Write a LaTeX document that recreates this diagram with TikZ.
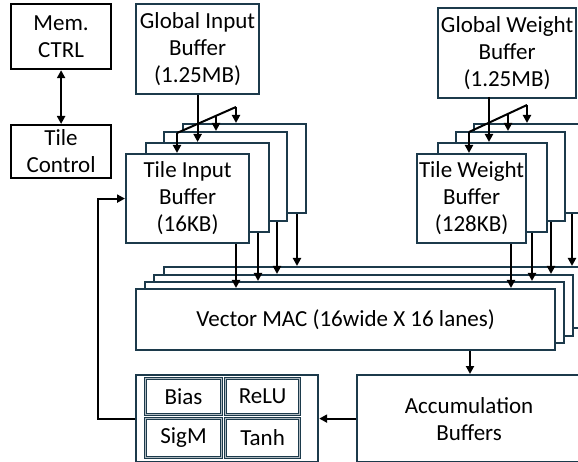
\documentclass[tikz,border=0pt]{standalone}
\usepackage{fontspec}
\setmainfont{Carlito}
\usetikzlibrary{arrows.meta}
\definecolor{bd}{HTML}{1C3A4B}
\begin{document}
\begin{tikzpicture}[x=1pt,y=-1pt,
  box/.style={draw=bd, line width=2.2pt, fill=white, inner sep=0pt, anchor=north west, align=center, font=\fontsize{23}{27}\selectfont},
  blk/.style={box, draw=black},
  ibox/.style={box, line width=1.1pt, double=bd!35, double distance=0.8pt},
  ln/.style={line width=2pt},
  arr/.style={ln, -{Triangle[length=8pt,width=8pt]}},
  darr/.style={ln, {Triangle[length=8pt,width=8pt]}-{Triangle[length=8pt,width=8pt]}}]
\clip (0,0) rectangle (578,462);
% control
\node[blk, minimum width=100pt, minimum height=65pt] (mem) at (10,3) {Mem.\\CTRL};
\node[blk, minimum width=100pt, minimum height=53pt] (tc) at (10,124) {Tile\\Control};
\draw[darr] (mem.south) -- (tc.north);
% global buffers
\node[box, minimum width=123pt, minimum height=90pt] (gi) at (135,3) {Global Input\\Buffer\\(1.25MB)};
\node[box, minimum width=138pt, minimum height=90pt] (gw) at (437,7) {Global Weight\\Buffer\\(1.25MB)};
% tile input stack
\node[box, minimum width=123pt, minimum height=89pt] (ti4) at (182,123) {};
\node[box, minimum width=123pt, minimum height=89pt] (ti3) at (163,131) {};
\node[box, minimum width=123pt, minimum height=89pt] (ti2) at (145,142) {};
\node[box, minimum width=123pt, minimum height=89pt] (ti1) at (125,153) {Tile Input\\Buffer\\(16KB)};
% tile weight stack
\node[box, minimum width=109pt, minimum height=89pt] (tw4) at (473,123) {};
\node[box, minimum width=109pt, minimum height=89pt] (tw3) at (455,131) {};
\node[box, minimum width=109pt, minimum height=89pt] (tw2) at (437,142) {};
\node[box, minimum width=109pt, minimum height=89pt] (tw1) at (416,153) {Tile Weight\\Buffer\\(128KB)};
% MAC stack
\node[box, minimum width=419pt, minimum height=61pt] (m4) at (163,266) {};
\node[box, minimum width=419pt, minimum height=61pt] (m3) at (153,274) {};
\node[box, minimum width=419pt, minimum height=61pt] (m2) at (144,281) {};
\node[box, minimum width=419pt, minimum height=61pt] (m1) at (135,288) {Vector MAC (16wide X 16 lanes)};
% activation
\node[box, minimum width=182pt, minimum height=87pt] (act) at (135,374) {};
\node[ibox, minimum width=76pt, minimum height=36pt] (bias) at (145,378) {Bias};
\node[ibox, minimum width=74pt, minimum height=36pt] (relu) at (225,378) {ReLU};
\node[ibox, minimum width=76pt, minimum height=39pt] (sigm) at (145,418) {SigM};
\node[ibox, minimum width=74pt, minimum height=39pt] (tanh) at (225,418) {Tanh};
% accumulation
\node[box, minimum width=224pt, minimum height=87pt] (acc) at (356,374) {Accumulation\\Buffers};
% input fan-out
\coordinate (fa) at (177,133);
\coordinate (fb) at (236,107);
\coordinate (fc) at (216,115.8);
\draw[ln] (fa) -- (fb);
\draw[arr] (gi.south) -- (gi.south |- ti2.north);
\draw[arr] (fa) -- (fa |- ti1.north);
\draw[arr] (fc) -- (fc |- ti3.north);
\draw[arr] (fb) -- (fb |- ti4.north);
% weight fan-out
\coordinate (wtop) at (489,97);
\coordinate (wa) at (469,132);
\coordinate (wb) at (527,105);
\coordinate (wc) at (508,113.9);
\draw[ln] (wa) -- (wb);
\draw[arr] (wtop) -- (wtop |- tw2.north);
\draw[arr] (wa) -- (wa |- tw1.north);
\draw[arr] (wc) -- (wc |- tw3.north);
\draw[arr] (wb) -- (wb |- tw4.north);
% tiles to MAC
\coordinate (xi1) at (236,0);
\coordinate (xi2) at (258,0);
\coordinate (xi3) at (277,0);
\coordinate (xi4) at (297,0);
\coordinate (xw1) at (511,0);
\coordinate (xw2) at (532,0);
\coordinate (xw3) at (551,0);
\coordinate (xw4) at (572,0);
\draw[arr] (xi1 |- ti1.south) -- (xi1 |- m1.north);
\draw[arr] (xi2 |- ti2.south) -- (xi2 |- m2.north);
\draw[arr] (xi3 |- ti3.south) -- (xi3 |- m3.north);
\draw[arr] (xi4 |- ti4.south) -- (xi4 |- m4.north);
\draw[arr] (xw1 |- tw1.south) -- (xw1 |- m1.north);
\draw[arr] (xw2 |- tw2.south) -- (xw2 |- m2.north);
\draw[arr] (xw3 |- tw3.south) -- (xw3 |- m3.north);
\draw[arr] (xw4 |- tw4.south) -- (xw4 |- m4.north);
% MAC to accumulation, to activation, feedback
\coordinate (xm) at (470,0);
\draw[arr] (xm |- m1.south) -- (xm |- acc.north);
\draw[arr] (acc.west) -- (act.east);
\coordinate (fbk) at (98,0);
\draw[arr] (act.west) -- (fbk |- act.west) |- (ti1.west);
\end{tikzpicture}
\end{document}
